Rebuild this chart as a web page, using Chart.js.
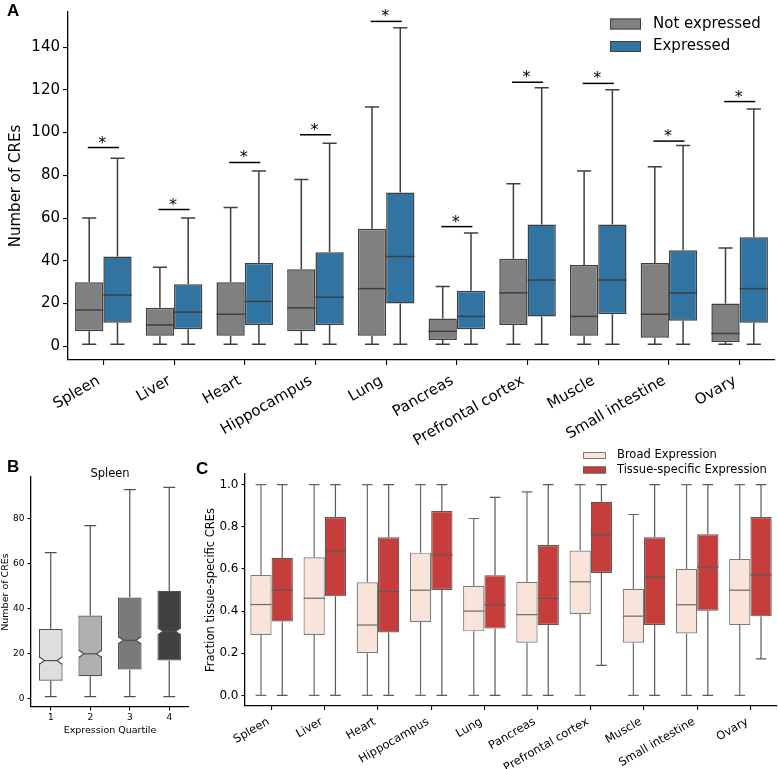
<!DOCTYPE html>
<html>
<head>
<meta charset="utf-8">
<script src="https://cdn.jsdelivr.net/npm/chart.js@4.4.0/dist/chart.umd.min.js"></script>
<style>
body { margin: 0; background: #fff; }
#wrap { position: relative; width: 778px; height: 769px; overflow: hidden; }
canvas { position: absolute; }
.tag { position: absolute; font: bold 17px "Liberation Sans", Arial, sans-serif; line-height: 17px; color: #000; }
</style>
</head>
<body>
<div id="wrap">
  <canvas id="chartA" width="778" height="450" style="left:0;top:0"></canvas>
  <canvas id="chartB" width="195" height="319" style="left:0;top:450px"></canvas>
  <canvas id="chartC" width="588" height="329" style="left:190px;top:440px"></canvas>
  <div class="tag" style="left:7px;top:2px">A</div>
  <div class="tag" style="left:7px;top:458px">B</div>
  <div class="tag" style="left:196px;top:460px">C</div>
</div>
<script>
Chart.defaults.font.family = '"DejaVu Sans", sans-serif';
Chart.defaults.color = '#000';

// ---- panel A ----
const tissues = ['Spleen', 'Liver', 'Heart', 'Hippocampus', 'Lung', 'Pancreas',
  'Prefrontal cortex', 'Muscle', 'Small intestine', 'Ovary'];
// each box: [min, q1, median, q3, max]
const notExpressed = [[1, 7, 17, 30, 60], [1, 5, 10, 18, 37], [1, 5, 15, 30, 65], [1, 7, 18, 36, 78],
  [1, 5, 27, 55, 112], [1, 3, 7, 13, 28], [1, 10, 25, 41, 76], [1, 5, 14, 38, 82],
  [1, 4, 15, 39, 84], [1, 2, 6, 20, 46]];
const expressed = [[1, 11, 24, 42, 88], [1, 8, 16, 29, 60], [1, 10, 21, 39, 82], [1, 10, 23, 44, 95],
  [1, 20, 42, 72, 149], [1, 8, 14, 26, 53], [1, 14, 31, 57, 121], [1, 15, 31, 57, 120],
  [1, 12, 25, 45, 94], [1, 11, 27, 51, 111]];
const sigBarY = [93, 64, 86, 99, 152, 56, 123.5, 123, 96, 114.5];
const sigMarks = ['*', '*', '*', '*', '*', '*', '*', '*', '*', '*'];
const yTicksA = [0, 20, 40, 60, 80, 100, 120, 140];

// ---- panel B ----
const quartiles = ['1', '2', '3', '4'];
const spleenQuartiles = [[1, 8, 17, 31, 65], [1, 10, 20, 37, 77], [1, 13, 26, 45, 93], [1, 17, 30, 48, 94]];
const spleenNotches = [[15.4, 18.6], [18.4, 21.6], [24.4, 27.6], [28.4, 31.6]];
const yTicksB = [0, 20, 40, 60, 80];

// ---- panel C ----
const broadExpr = [[0, 0.287, 0.431, 0.571, 1], [0, 0.287, 0.461, 0.655, 1], [0, 0.2, 0.334, 0.537, 1],
  [0, 0.348, 0.499, 0.677, 1], [0, 0.304, 0.4, 0.52, 0.839], [0, 0.25, 0.383, 0.539, 0.965],
  [0, 0.386, 0.539, 0.687, 1], [0, 0.25, 0.376, 0.506, 0.858], [0, 0.294, 0.43, 0.6, 1],
  [0, 0.334, 0.499, 0.647, 1]];
const specificExpr = [[0, 0.351, 0.499, 0.653, 1], [0, 0.47, 0.685, 0.846, 1], [0, 0.299, 0.493, 0.75, 1],
  [0, 0.5, 0.666, 0.874, 1], [0, 0.317, 0.43, 0.57, 0.939], [0, 0.334, 0.46, 0.713, 1],
  [0.143, 0.581, 0.762, 0.918, 1], [0, 0.334, 0.561, 0.75, 1], [0, 0.402, 0.609, 0.764, 1],
  [0.173, 0.375, 0.572, 0.846, 1]];
const yTicksC = [0, 0.2, 0.4, 0.6, 0.8, 1.0];

// draws whiskers, caps, medians (and notches) on top of the floating bars
const boxplotPlugin = {
  id: 'boxplot',
  afterDatasetsDraw(chart) {
    const ctx = chart.ctx, y = chart.scales.y;
    const py = v => y.getPixelForValue(v);
    chart.data.datasets.forEach((ds, di) => {
      const meta = chart.getDatasetMeta(di);
      meta.data.forEach((bar, i) => {
        const [lo, q1, med, q3, hi] = ds.stats[i];
        const x = bar.x, half = bar.width / 2;
        ctx.save();
        ctx.strokeStyle = ds.lineColor;
        ctx.lineWidth = ds.lineWidth;
        ctx.beginPath();
        ctx.moveTo(x, py(q3)); ctx.lineTo(x, py(hi));
        ctx.moveTo(x - half / 2, py(hi)); ctx.lineTo(x + half / 2, py(hi));
        ctx.moveTo(x, py(q1)); ctx.lineTo(x, py(lo));
        ctx.moveTo(x - half / 2, py(lo)); ctx.lineTo(x + half / 2, py(lo));
        ctx.stroke();
        let inset = 0;
        if (ds.notches) {
          const [n0, n1] = ds.notches[i];
          inset = bar.width * 0.21;
          const l = x - half + ds.lineWidth / 2, r = x + half - ds.lineWidth / 2;
          ctx.fillStyle = '#fff';
          ctx.beginPath();
          ctx.moveTo(l - 2, py(n1)); ctx.lineTo(l + inset, py(med)); ctx.lineTo(l - 2, py(n0)); ctx.closePath();
          ctx.moveTo(r + 2, py(n1)); ctx.lineTo(r - inset, py(med)); ctx.lineTo(r + 2, py(n0)); ctx.closePath();
          ctx.fill();
          ctx.beginPath();
          ctx.moveTo(l, py(n1)); ctx.lineTo(l + inset, py(med)); ctx.lineTo(l, py(n0));
          ctx.moveTo(r, py(n1)); ctx.lineTo(r - inset, py(med)); ctx.lineTo(r, py(n0));
          ctx.stroke();
        }
        ctx.beginPath();
        ctx.moveTo(x - half + inset, py(med)); ctx.lineTo(x + half - inset, py(med));
        ctx.stroke();
        ctx.restore();
      });
    });
  }
};

const sigPlugin = {
  id: 'sig',
  afterDatasetsDraw(chart) {
    const {ctx, scales: {x, y}} = chart;
    const step = x.getPixelForValue(1) - x.getPixelForValue(0);
    ctx.save();
    ctx.strokeStyle = '#000'; ctx.lineWidth = 1.5; ctx.fillStyle = '#000';
    ctx.font = '16px "DejaVu Sans"'; ctx.textAlign = 'center'; ctx.textBaseline = 'alphabetic';
    sigBarY.forEach((v, i) => {
      const cx = x.getPixelForValue(i), yy = y.getPixelForValue(v);
      ctx.beginPath(); ctx.moveTo(cx - 0.22 * step, yy); ctx.lineTo(cx + 0.22 * step, yy); ctx.stroke();
      ctx.fillText(sigMarks[i], cx - 1, yy);
    });
    ctx.restore();
  }
};

// simple legend drawn from the datasets
function legendPlugin(o) {
  return {
    id: 'legendBox',
    afterDraw(chart) {
      const ctx = chart.ctx;
      ctx.save();
      ctx.font = o.size + 'px "DejaVu Sans"';
      ctx.textBaseline = 'middle'; ctx.textAlign = 'left';
      chart.data.datasets.forEach((ds, i) => {
        const cy = o.y + i * o.gap;
        ctx.fillStyle = ds.backgroundColor;
        ctx.fillRect(o.x, cy - o.h / 2, o.w, o.h);
        ctx.strokeStyle = ds.borderColor; ctx.lineWidth = 1;
        ctx.strokeRect(o.x + 0.5, cy - o.h / 2 + 0.5, o.w - 1, o.h - 1);
        ctx.fillStyle = '#000';
        ctx.fillText(ds.label, o.tx, cy);
      });
      ctx.restore();
    }
  };
}

const titlePlugin = {
  id: 'panelTitle',
  afterDraw(chart) {
    const ctx = chart.ctx, a = chart.chartArea;
    ctx.save();
    ctx.font = '11.5px "DejaVu Sans"'; ctx.fillStyle = '#000';
    ctx.textAlign = 'center'; ctx.textBaseline = 'alphabetic';
    ctx.fillText('Spleen', (a.left + a.right) / 2, a.top - 0.5);
    ctx.restore();
  }
};

function axisX(font, rot, tick, h, pad, shift) {
  return {
    offset: true,
    grid: { display: true, drawOnChartArea: false, offset: false, tickLength: tick, color: '#000', lineWidth: 1.1 },
    border: { display: true, color: '#000', width: 1.3 },
    ticks: { font: { size: font }, color: '#000', minRotation: rot, maxRotation: rot, autoSkip: false,
      padding: pad, labelOffset: shift },
    afterFit: s => { s.height = h; }
  };
}
function axisY(min, max, ticks, font, tick, w, title, titleSize, titlePad, fmt) {
  return {
    min: min, max: max,
    grid: { display: true, drawOnChartArea: false, tickLength: tick, color: '#000', lineWidth: 1.1 },
    border: { display: true, color: '#000', width: 1.3 },
    ticks: { font: { size: font }, color: '#000', padding: 3, callback: fmt },
    afterBuildTicks: s => { s.ticks = ticks.map(v => ({ value: v })); },
    afterFit: s => { s.width = w; },
    title: { display: true, text: title, font: { size: titleSize }, color: '#000', padding: { top: titlePad, bottom: 0 } }
  };
}

const common = {
  responsive: false,
  animation: false,
  events: [],
  plugins: { legend: { display: false }, tooltip: { enabled: false } }
};

// panel A
new Chart(document.getElementById('chartA'), {
  type: 'bar',
  data: {
    labels: tissues,
    datasets: [
      { label: 'Not expressed', data: notExpressed.map(s => [s[1], s[3]]), stats: notExpressed,
        backgroundColor: '#808080', borderColor: '#3f3f3f', borderWidth: 1.5, borderSkipped: false,
        lineColor: '#3f3f3f', lineWidth: 1.5, categoryPercentage: 0.8, barPercentage: 1 },
      { label: 'Expressed', data: expressed.map(s => [s[1], s[3]]), stats: expressed,
        backgroundColor: '#3274a1', borderColor: '#3f3f3f', borderWidth: 1.5, borderSkipped: false,
        lineColor: '#3f3f3f', lineWidth: 1.5, categoryPercentage: 0.8, barPercentage: 1 }
    ]
  },
  options: Object.assign({}, common, {
    layout: { padding: { left: 0, right: 3, top: 4, bottom: 0 } },
    scales: {
      x: axisX(15, 30, 5, 90, 7, -4.5),
      y: axisY(-6.4, 156.4, yTicksA, 15, 5, 68, 'Number of CREs', 15, 7.5)
    }
  }),
  plugins: [boxplotPlugin, sigPlugin,
    legendPlugin({ x: 610, y: 24, gap: 22.5, w: 31, h: 11, tx: 653, size: 15 })]
});

// panel B
new Chart(document.getElementById('chartB'), {
  type: 'bar',
  data: {
    labels: quartiles,
    datasets: [
      { label: 'Spleen', data: spleenQuartiles.map(s => [s[1], s[3]]), stats: spleenQuartiles,
        notches: spleenNotches,
        backgroundColor: ['#dedede', '#b0b0b0', '#7a7a7a', '#404040'], borderColor: '#505050',
        borderWidth: 1.2, borderSkipped: false, lineColor: '#505050', lineWidth: 1.2,
        categoryPercentage: 1, barPercentage: 0.6 }
    ]
  },
  options: Object.assign({}, common, {
    layout: { padding: { left: 0, right: 6, top: 27, bottom: 0 } },
    scales: {
      x: Object.assign(axisX(9, 0, 3.5, 62, 2, 0), {
        title: { display: true, text: 'Expression Quartile', font: { size: 9.5 }, color: '#000', padding: { top: 0, bottom: 33 } }
      }),
      y: axisY(-3.65, 98.65, yTicksB, 9, 3.5, 31, 'Number of CREs', 9.5, 0)
    }
  }),
  plugins: [boxplotPlugin, titlePlugin]
});

// panel C
new Chart(document.getElementById('chartC'), {
  type: 'bar',
  data: {
    labels: tissues,
    datasets: [
      { label: 'Broad Expression', data: broadExpr.map(s => [s[1], s[3]]), stats: broadExpr,
        backgroundColor: '#f9e4da', borderColor: '#7a7a7a', borderWidth: 1.2, borderSkipped: false,
        lineColor: '#6a6a6a', lineWidth: 1.2, categoryPercentage: 0.8, barPercentage: 1 },
      { label: 'Tissue-specific Expression', data: specificExpr.map(s => [s[1], s[3]]), stats: specificExpr,
        backgroundColor: '#c73d3c', borderColor: '#5a5a5a', borderWidth: 1.2, borderSkipped: false,
        lineColor: '#5a5a5a', lineWidth: 1.2, categoryPercentage: 0.8, barPercentage: 1 }
    ]
  },
  options: Object.assign({}, common, {
    layout: { padding: { left: 0, right: 1, top: 34, bottom: 0 } },
    scales: {
      x: axisX(11.5, 30, 4, 63, 5, -3),
      y: axisY(-0.05, 1.05, yTicksC, 12, 3.5, 55, 'Fraction tissue-specific CREs', 11.5, 13.8,
        v => Number(v).toFixed(1))
    }
  }),
  plugins: [boxplotPlugin,
    legendPlugin({ x: 393, y: 15.5, gap: 14.5, w: 23, h: 7, tx: 427, size: 11.5 })]
});
</script>
</body>
</html>
